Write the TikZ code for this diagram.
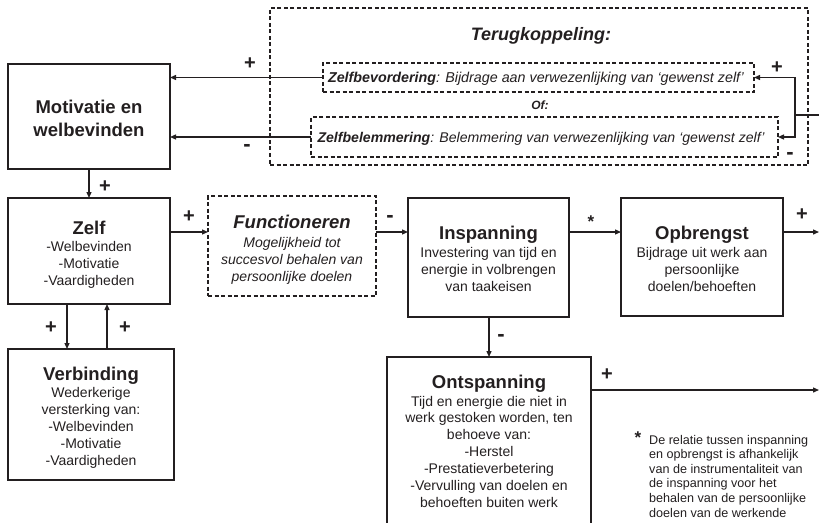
\documentclass[tikz,border=0pt]{standalone}
\usepackage{fontspec}
\setmainfont{Liberation Sans}
\usetikzlibrary{arrows.meta}
\definecolor{ink}{RGB}{35,31,32}
\newcommand\ml[2][c]{\begin{tabular}[t]{@{}#1@{}}#2\end{tabular}}
\begin{document}
\begin{tikzpicture}[x=1pt,y=-1pt,color=ink,
  mbox/.style={draw,line width=1.5pt,inner sep=0pt,outer sep=0pt,rectangle},
  dbox/.style={draw,line width=1.4pt,dash pattern=on 4pt off 2.5pt,inner sep=0pt,outer sep=0pt,rectangle},
  arr/.style={line width=1.3pt,-{Triangle[length=6pt,width=5pt]}},
  plain/.style={line width=1.3pt},
  lbl/.style={font=\fontsize{20}{20}\selectfont\bfseries,inner sep=0pt,anchor=base},
  mns/.style={font=\fontsize{22}{22}\selectfont\bfseries,inner sep=0pt,anchor=base},
  ttl/.style={font=\fontsize{18.5}{23}\selectfont\bfseries,inner sep=0pt,anchor=base},
  bdy/.style={font=\fontsize{14}{17}\selectfont,inner sep=0pt,anchor=base}]
\useasboundingbox (0,0) rectangle (819,522);
\clip (0,0) rectangle (819,522);

% feedback frame
\node[dbox,minimum width=538,minimum height=157] (fb) at (539,86.5) {};
\node[inner sep=0pt,anchor=base,font=\fontsize{18}{22}\selectfont\bfseries\itshape] (fbT) at (541,40) {Terugkoppeling:};
\node[dbox,minimum width=431,minimum height=29] (bev) at (538.5,77.5) {};
\node[inner sep=0pt,anchor=base,font=\fontsize{14.3}{17}\selectfont\itshape] (bevT) at (536,82.5) {\textbf{Zelfbevordering}: Bijdrage aan verwezenlijking van ‘gewenst zelf’};
\node[inner sep=0pt,anchor=base,font=\fontsize{12}{14}\selectfont\bfseries\itshape] (ofT) at (540,109) {Of:};
\node[dbox,minimum width=467,minimum height=40] (bel) at (544.5,137) {};
\node[inner sep=0pt,anchor=base,font=\fontsize{14.1}{17}\selectfont\itshape] (belT) at (541,142) {\textbf{Zelfbelemmering}: Belemmering van verwezenlijking van ‘gewenst zelf’};

% boxes
\node[mbox,minimum width=162,minimum height=105] (mot) at (89,116.5) {};
\node[ttl] (motT) at (89,113) {\ml{Motivatie en\\welbevinden}};

\node[mbox,minimum width=162,minimum height=106] (zelf) at (89,251) {};
\node[ttl] (zelfT) at (89,234) {Zelf};
\node[bdy] (zelfB) at (89,251) {\ml{-Welbevinden\\-Motivatie\\-Vaardigheden}};

\node[dbox,minimum width=168,minimum height=100] (func) at (292,246) {};
\node[ttl,font=\fontsize{18.5}{23}\selectfont\bfseries\itshape] (funcT) at (292,228) {Functioneren};
\node[bdy,font=\fontsize{14}{17}\selectfont\itshape] (funcB) at (292,247) {\ml{Mogelijkheid tot\\succesvol behalen van\\persoonlijke doelen}};

\node[mbox,minimum width=161,minimum height=119] (insp) at (488.5,257.5) {};
\node[ttl] (inspT) at (488.5,239) {Inspanning};
\node[bdy] (inspB) at (488.5,257) {\ml{Investering van tijd en\\energie in volbrengen\\van taakeisen}};

\node[mbox,minimum width=162,minimum height=118] (opb) at (702,257) {};
\node[ttl] (opbT) at (702,239) {Opbrengst};
\node[bdy] (opbB) at (702,257) {\ml{Bijdrage uit werk aan\\persoonlijke\\doelen/behoeften}};

\node[mbox,minimum width=166,minimum height=131] (verb) at (91,414.5) {};
\node[ttl] (verbT) at (91,380) {Verbinding};
\node[bdy] (verbB) at (91,397) {\ml{Wederkerige\\versterking van:\\-Welbevinden\\-Motivatie\\-Vaardigheden}};

\node[mbox,minimum width=204,minimum height=183] (onts) at (489,448.5) {};
\node[ttl] (ontsT) at (489,388) {Ontspanning};
\node[bdy,font=\fontsize{14}{16.9}\selectfont] (ontsB) at (489,406) {\ml{Tijd en energie die niet in\\werk gestoken worden, ten\\behoeve van:\\-Herstel\\-Prestatieverbetering\\-Vervulling van doelen en\\behoeften buiten werk}};

% footnote
\node[inner sep=0pt,anchor=base,font=\fontsize{17}{17}\selectfont\bfseries] (star) at (638,443) {*};
\node[inner sep=0pt,anchor=base west,font=\fontsize{12.6}{14.6}\selectfont] (note) at (649,444) {\ml[l]{De relatie tussen inspanning\\en opbrengst is afhankelijk\\van de instrumentaliteit van\\de inspanning voor het\\behalen van de persoonlijke\\doelen van de werkende}};

% helper coordinates
\coordinate (r1) at (0,232);
\coordinate (r2) at (0,390);
\coordinate (cd) at (67,0);
\coordinate (cu) at (107,0);
\coordinate (outO) at (819,232);
\coordinate (outR) at (819,390);
\coordinate (fbin) at (819,115);
\coordinate (fbj) at (795,115);

% connectors
\draw[arr] (bev.west) -- (bev.west -| mot.east);
\draw[arr] (bel.west) -- (bel.west -| mot.east);
\draw[plain] (fbin) -- (fbj);
\draw[arr] (fbj) |- (bev.east);
\draw[arr] (fbj) |- (bel.east);
\draw[arr] (mot.south) -- (zelf.north);
\draw[arr] (zelf.east |- r1) -- (func.west |- r1);
\draw[arr] (func.east |- r1) -- (insp.west |- r1);
\draw[arr] (insp.east |- r1) -- (opb.west |- r1);
\draw[arr] (opb.east |- r1) -- (outO);
\draw[arr] (zelf.south -| cd) -- (verb.north -| cd);
\draw[arr] (verb.north -| cu) -- (zelf.south -| cu);
\draw[arr] (insp.south -| onts.north) -- (onts.north);
\draw[arr] (onts.east |- r2) -- (outR);

% signs
\node[lbl] (s1) at (250,69.5) {+};
\node[mns] (s2) at (247,151.5) {-};
\node[lbl] (s3) at (777,73) {+};
\node[mns] (s4) at (790,159.5) {-};
\node[lbl] (s5) at (105,192) {+};
\node[lbl] (s6) at (189,222) {+};
\node[mns] (s7) at (390,222.5) {-};
\node[lbl,font=\fontsize{17}{17}\selectfont\bfseries] (s8) at (591,227.5) {*};
\node[lbl] (s9) at (802,220) {+};
\node[lbl] (s10) at (51,333) {+};
\node[lbl] (s11) at (125,333) {+};
\node[mns] (s12) at (501,341.5) {-};
\node[lbl] (s13) at (607,380) {+};
\end{tikzpicture}
\end{document}
